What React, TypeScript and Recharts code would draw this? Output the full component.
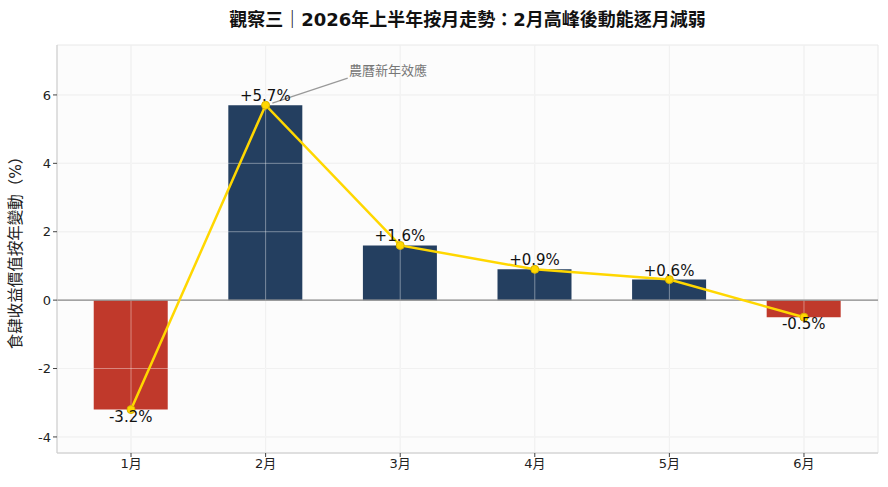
import React from 'react';
import {
    ComposedChart,
    Bar,
    Line,
    Cell,
    XAxis,
    YAxis,
    CartesianGrid,
    ReferenceLine,
    ReferenceDot,
    LabelList,
} from 'recharts';

const months = ['1月', '2月', '3月', '4月', '5月', '6月'];
const yoyChange = [-3.2, 5.7, 1.6, 0.9, 0.6, -0.5];
const yTicks = [-4, -2, 0, 2, 4, 6];
const xTicks = [0, 1, 2, 3, 4, 5];

const FONT = '"DejaVu Sans", "Noto Sans CJK TC", sans-serif';

const data = months.map((m, i) => ({ idx: i, month: m, value: yoyChange[i] }));

// value label above positive bars, below negative ones
const BarValueLabel = (props: any) => {
    const { x, y, width, height, value } = props;
    const top = Math.min(y, y + height);
    const bottom = Math.max(y, y + height);
    const cx = x + width / 2;
    const text = value >= 0 ? `+${value.toFixed(1)}%` : `${value.toFixed(1)}%`;
    return (
        <text
            x={cx}
            y={value >= 0 ? top - 4 : bottom + 12}
            textAnchor="middle"
            fontSize={15}
            fill="#111"
            fontFamily={FONT}
        >
            {text}
        </text>
    );
};

export default function App() {
    return (
        <div style={{ position: 'absolute', left: 0, top: 0, width: 888, height: 487, background: '#fff' }}>
            <div
                style={{
                    position: 'absolute',
                    left: 0,
                    width: 935,
                    top: 5,
                    textAlign: 'center',
                    fontFamily: FONT,
                    fontWeight: 'bold',
                    fontSize: 18,
                    color: '#111',
                }}
            >
                觀察三｜2026年上半年按月走勢：2月高峰後動能逐月減弱
            </div>
            <ComposedChart
                width={888}
                height={487}
                data={data}
                margin={{ top: 45, right: 10, bottom: 0, left: 0 }}
                style={{ fontFamily: FONT }}
            >
                <CartesianGrid stroke="#e8e8e8" fill="#fcfcfc" />
                <XAxis
                    dataKey="idx"
                    type="number"
                    domain={[-0.55, 5.55]}
                    ticks={xTicks}
                    tickFormatter={(i) => months[i]}
                    height={34}
                    stroke="#cccccc"
                    tick={{ fill: '#222', fontSize: 13 }}
                    tickSize={4}
                    tickLine={{ stroke: '#444' }}
                    allowDataOverflow
                />
                <YAxis
                    type="number"
                    domain={[-4.47, 7.46]}
                    ticks={yTicks}
                    width={57}
                    stroke="#cccccc"
                    tick={{ fill: '#222', fontSize: 13 }}
                    tickSize={4}
                    tickLine={{ stroke: '#444' }}
                    allowDataOverflow
                    label={{
                        value: '食肆收益價值按年變動（%）',
                        angle: -90,
                        position: 'insideLeft',
                        dx: 10,
                        fontSize: 15.5,
                        fill: '#222',
                        style: { textAnchor: 'middle' },
                    }}
                />
                <Bar dataKey="value" barSize={74} isAnimationActive={false}>
                    {data.map((d) => (
                        <Cell key={d.idx} fill={d.value >= 0 ? '#243f60' : '#c0392b'} />
                    ))}
                    <LabelList dataKey="value" content={BarValueLabel} />
                </Bar>
                {/* grid lines visible over the bars */}
                {yTicks.map((t) => (
                    <ReferenceLine key={`h${t}`} y={t} stroke="#ffffff" strokeOpacity={0.4} />
                ))}
                {xTicks.map((t) => (
                    <ReferenceLine key={`v${t}`} x={t} stroke="#ffffff" strokeOpacity={0.4} />
                ))}
                <ReferenceLine y={0} stroke="#888888" strokeWidth={1.2} />
                <Line
                    dataKey="value"
                    type="linear"
                    stroke="#FFD700"
                    strokeWidth={2.5}
                    dot={{ r: 4, fill: '#FFD700', stroke: '#d9b400', strokeWidth: 1 }}
                    isAnimationActive={false}
                />
                <ReferenceLine
                    segment={[
                        { x: 1.61, y: 6.49 },
                        { x: 1.05, y: 5.76 },
                    ]}
                    stroke="#999999"
                    strokeWidth={1.2}
                />
                <ReferenceDot
                    x={1.91}
                    y={6.72}
                    r={0}
                    label={{ value: '農曆新年效應', position: 'center', fill: '#777', fontSize: 13 }}
                />
            </ComposedChart>
        </div>
    );
}
